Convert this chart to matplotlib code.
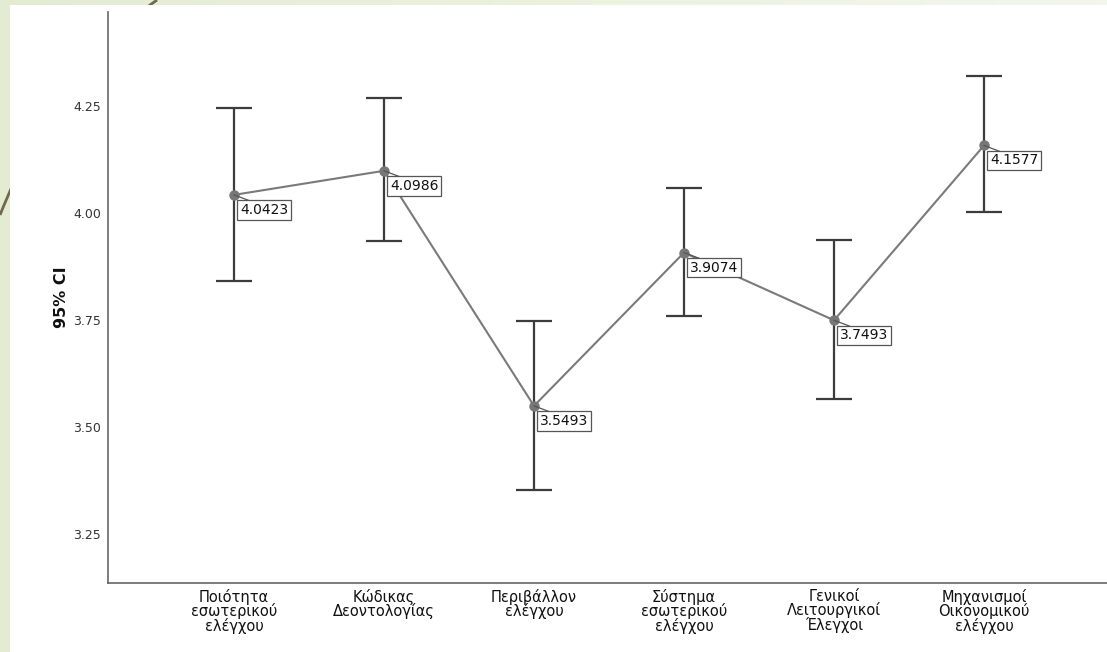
import matplotlib
matplotlib.use("Agg")
import matplotlib.pyplot as plt
import numpy as np
from matplotlib.patches import Rectangle, PathPatch
from matplotlib.path import Path

# Mean scores and 95% confidence intervals per dimension
categories = [
    "Ποιότητα\nεσωτερικού\nελέγχου",
    "Κώδικας\nΔεοντολογίας",
    "Περιβάλλον\nελέγχου",
    "Σύστημα\nεσωτερικού\nελέγχου",
    "Γενικοί\nΛειτουργικοί\nΈλεγχοι",
    "Μηχανισμοί\nΟικονομικού\nελέγχου",
]
means = [4.0423, 4.0986, 3.5493, 3.9074, 3.7493, 4.1577]
ci_low = [3.841, 3.935, 3.353, 3.759, 3.565, 4.003]
ci_high = [4.245, 4.269, 3.748, 4.058, 3.937, 4.321]
yticks = [3.25, 3.50, 3.75, 4.00, 4.25]
ytick_labels = ["3.25", "3.50", "3.75", "4.00", "4.25"]

W, H = 1107, 652
fig = plt.figure(figsize=(W / 100, H / 100), dpi=100)

# Slide-style backdrop: pale green gradient, decorative curve, white panel
bg = fig.add_axes([0, 0, 1, 1], zorder=-10)
bg.set_xlim(0, W)
bg.set_ylim(H, 0)
bg.axis("off")
grad = np.linspace(0, 1, 256)[None, :]
c0 = np.array([0.894, 0.922, 0.827])
c1 = np.array([0.955, 0.965, 0.925])
img = c0 + (c1 - c0) * grad[..., None]
bg.imshow(img, extent=[0, W, H, 0], aspect="auto", zorder=0)
curve = Path([(157, 0), (58, 69), (0, 215)], [Path.MOVETO, Path.CURVE3, Path.CURVE3])
bg.add_patch(PathPatch(curve, facecolor="none", edgecolor="#6f6a4e", lw=2.0, zorder=1))
bg.add_patch(Rectangle((10, 5), W - 10, H - 5, facecolor="white", edgecolor="none", zorder=2))

ax = fig.add_axes([108 / W, 1 - 583 / H, 1 - 108 / W, (583 - 12) / H])
ax.set_facecolor("none")
x = np.arange(len(categories))
means_a = np.array(means)
yerr = np.vstack([means_a - np.array(ci_low), np.array(ci_high) - means_a])

ax.errorbar(x, means_a, yerr=yerr, fmt="none", ecolor="#3c3c3c", elinewidth=1.6,
            capsize=13.3, capthick=1.6, zorder=2)
ax.plot(x, means_a, color="#7a7a7a", lw=1.5, marker="o", markersize=6.5,
        markerfacecolor="#777777", markeredgecolor="#777777", zorder=3)

for xi, m in zip(x, means):
    ax.annotate("", xy=(xi, m), xytext=(16, -6), textcoords="offset pixels",
                arrowprops=dict(arrowstyle="-", color="#555555", lw=0.9,
                                shrinkA=0, shrinkB=0), zorder=4)
    ax.annotate(f"{m:.4f}", xy=(xi, m), xytext=(6, -8), textcoords="offset pixels",
                ha="left", va="top", fontsize=10, family="DejaVu Sans", color="#111111",
                bbox=dict(boxstyle="square,pad=0.2", facecolor="white",
                          edgecolor="#555555", lw=0.9), zorder=5)

ax.set_xlim(-0.84, 5.82)
ax.set_ylim(3.1355, 4.4696)
ax.set_xticks(x)
ax.set_xticklabels(categories, fontsize=10.5, family="DejaVu Sans", linespacing=0.9,
                   color="#111111")
ax.set_yticks(yticks)
ax.set_yticklabels(ytick_labels, fontsize=9, family="DejaVu Sans", color="#333333")
ax.tick_params(axis="both", length=0)
ax.tick_params(axis="x", pad=4)
ax.tick_params(axis="y", pad=5)
for s in ["top", "right"]:
    ax.spines[s].set_visible(False)
for s in ["left", "bottom"]:
    ax.spines[s].set_color("#666666")
    ax.spines[s].set_linewidth(1.2)
ax.set_ylabel("95% CI", fontsize=11.5, fontweight="bold", family="DejaVu Sans",
              color="#111111", labelpad=3)

fig.savefig("out.png", dpi=100)
